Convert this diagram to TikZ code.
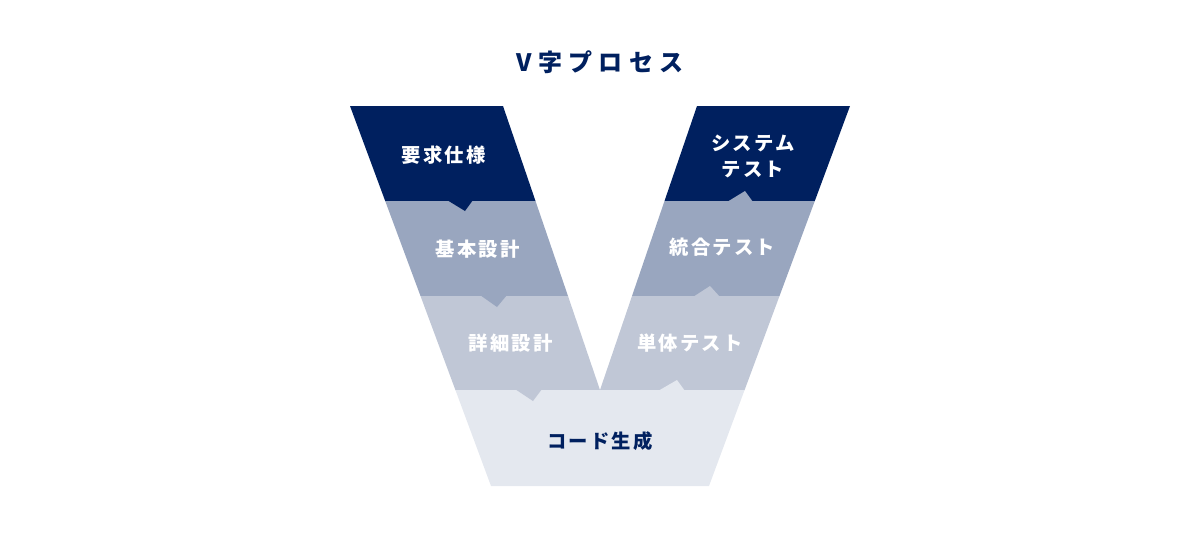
\documentclass[tikz,border=0pt]{standalone}
\usepackage{fontspec}
\setmainfont{Noto Sans CJK JP}
\definecolor{vnavy}{HTML}{00205F}
\definecolor{vmid}{HTML}{99A6BF}
\definecolor{vlight}{HTML}{C0C7D6}
\definecolor{vpale}{HTML}{E4E8EF}

\begin{document}
\begin{tikzpicture}[
  x=0.75pt, y=-0.75pt,
  lab/.style={font=\bfseries\fontsize{14.5}{15}\selectfont\addfontfeatures{LetterSpace=11}, text=white, align=center, inner sep=0pt},
  ttl/.style={font=\bfseries\fontsize{18}{20}\selectfont\addfontfeatures{LetterSpace=27}, text=vnavy, inner sep=0pt}
]
\useasboundingbox (0,0) rectangle (1200,536);
% bands, left arm
\fill[vnavy]  (350,106) -- (503,106) -- (535.5,201) -- (385.2,201) -- cycle;
\fill[vmid]   (385.2,201) -- (535.5,201) -- (568,296) -- (420.5,296) -- cycle;
\fill[vlight] (420.5,296) -- (568,296) -- (600,390) -- (455.4,390) -- cycle;
% bands, right arm
\fill[vnavy]  (697,106) -- (850,106) -- (814.8,201) -- (664.5,201) -- cycle;
\fill[vmid]   (664.5,201) -- (814.8,201) -- (779.5,296) -- (632,296) -- cycle;
\fill[vlight] (632,296) -- (779.5,296) -- (744.6,390) -- (600,390) -- cycle;
% bottom
\fill[vpale]  (455.4,390) -- (744.6,390) -- (709,486) -- (491,486) -- cycle;
% notches going down
\fill[vnavy]  (447,200) -- (465,211) -- (473,200) -- cycle;
\fill[vmid]   (480,295) -- (497,307) -- (507,295) -- cycle;
\fill[vlight] (515,389) -- (533,401) -- (542,389) -- cycle;
% notches going up
\fill[vmid]   (727,202) -- (745,191) -- (753,202) -- cycle;
\fill[vlight] (693,297) -- (710,286) -- (720,297) -- cycle;
\fill[vpale]  (658,391) -- (677,380) -- (685,391) -- cycle;

\node[ttl] (title) at (600,62) {V字プロセス};
\node[lab] (req) at (443.5,155) {要求仕様};
\node[lab] (basic) at (477.5,249) {基本設計};
\node[lab] (detail) at (510.5,343) {詳細設計};
\node[lab] (code) at (600,441.5) {\textcolor{vnavy}{コード生成}};
\node[lab] (unit) at (690,343) {単体テスト};
\node[lab] (integ) at (722.5,247.5) {統合テスト};
\node[lab, font=\bfseries\fontsize{14.5}{20}\selectfont\addfontfeatures{LetterSpace=11}] (sys) at (753,156.5) {システム\\テスト};
\end{tikzpicture}
\end{document}
